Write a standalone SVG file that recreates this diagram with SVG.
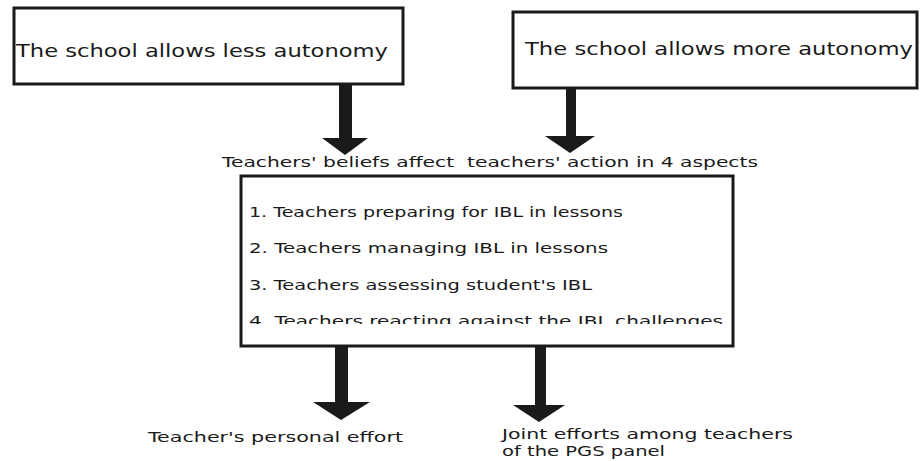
<svg xmlns="http://www.w3.org/2000/svg" width="920" height="461" viewBox="0 0 920 461">
<style>
.box{fill:#fff;stroke:#1a1a1a;stroke-width:3}
.t{font-family:"DejaVu Sans","Liberation Sans",sans-serif;fill:#1a1a1a;white-space:pre}
.arr{fill:#1a1a1a}
</style>
<defs>
<clipPath id="clip4"><rect x="240" y="300" width="494" height="24"/></clipPath>
</defs>
<rect width="920" height="461" fill="#fff"/>
<g id="node-less">
<rect class="box" x="14" y="8" width="389" height="76"/>
<text class="t" x="16" y="57" font-size="17" textLength="372" lengthAdjust="spacingAndGlyphs">The school allows less autonomy</text>
</g>
<g id="node-more">
<rect class="box" x="513" y="12" width="404" height="76"/>
<text class="t" x="525" y="55" font-size="17" textLength="388" lengthAdjust="spacingAndGlyphs">The school allows more autonomy</text>
</g>
<g id="label-beliefs">
<text class="t" x="222" y="167" font-size="14.5" textLength="536" lengthAdjust="spacingAndGlyphs" xml:space="preserve">Teachers' beliefs affect  teachers' action in 4 aspects</text>
</g>
<g id="node-aspects">
<rect class="box" x="241" y="176" width="492" height="170"/>
<text class="t" x="249" y="217" font-size="14.5" textLength="374" lengthAdjust="spacingAndGlyphs">1. Teachers preparing for IBL in lessons</text>
<text class="t" x="249" y="253" font-size="14.5" textLength="359" lengthAdjust="spacingAndGlyphs">2. Teachers managing IBL in lessons</text>
<text class="t" x="249" y="290" font-size="14.5" textLength="343" lengthAdjust="spacingAndGlyphs">3. Teachers assessing student's IBL</text>
<text class="t" x="249" y="326" font-size="14.5" textLength="474" lengthAdjust="spacingAndGlyphs" clip-path="url(#clip4)">4. Teachers reacting against the IBL challenges</text>
</g>
<g id="node-personal">
<text class="t" x="148" y="442" font-size="14" textLength="255" lengthAdjust="spacingAndGlyphs">Teacher's personal effort</text>
</g>
<g id="node-joint">
<text class="t" x="502" y="439" font-size="14" textLength="291" lengthAdjust="spacingAndGlyphs">Joint efforts among teachers</text>
<text class="t" x="502" y="456" font-size="14" textLength="163" lengthAdjust="spacingAndGlyphs">of the PGS panel</text>
</g>
<g id="connectors">
<polygon class="arr" points="339,84 352,84 352,138 368,138 345,155 322,138 339,138"/>
<polygon class="arr" points="566,88 576,88 576,136 595,136 570,153 545,136 566,136"/>
<polygon class="arr" points="335,347 348,347 348,402 370,402 341,420 313,402 335,402"/>
<polygon class="arr" points="535,347 546,347 546,405 565,405 539,422 513,405 535,405"/>
</g>
</svg>
